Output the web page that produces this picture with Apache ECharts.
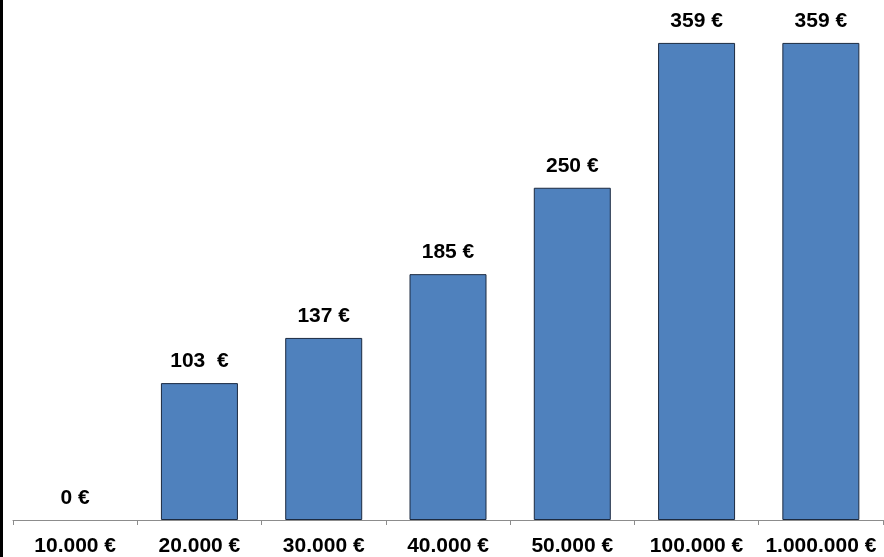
<!DOCTYPE html>
<html>
<head>
<meta charset="utf-8">
<script src="https://cdn.jsdelivr.net/npm/echarts@6/dist/echarts.min.js"></script>
<style>
html,body{margin:0;padding:0;background:#fff;}
#chart{width:884px;height:557px;}
</style>
</head>
<body>
<div id="chart"></div>
<script>
const categories = ['10.000 €', '20.000 €', '30.000 €', '40.000 €', '50.000 €', '100.000 €', '1.000.000 €'];
const values = [0, 103, 137, 185, 250, 359, 359];
const valueLabels = ['0 €', '103  €', '137 €', '185 €', '250 €', '359 €', '359 €'];

const chart = echarts.init(document.getElementById('chart'));
chart.setOption({
  animation: false,
  backgroundColor: '#ffffff',
  grid: { left: 13, right: 1, top: 15, bottom: 37 },
  xAxis: {
    type: 'category',
    data: categories,
    axisLine: { lineStyle: { color: '#8c8c8c', width: 1 } },
    axisTick: { show: true, length: 5, lineStyle: { color: '#8c8c8c' } },
    axisLabel: {
      color: '#000', fontFamily: 'Liberation Sans, Arial, sans-serif',
      fontWeight: 'bold', fontSize: 21, margin: 16, interval: 0
    }
  },
  yAxis: { type: 'value', min: 0, max: 380, show: false, splitLine: { show: false } },
  series: [{
    type: 'bar',
    data: values.map(v => v === 0 ? { value: v, itemStyle: { borderWidth: 0 } } : v),
    barWidth: 77,
    itemStyle: { color: '#4f81bd', borderColor: '#1c2a40', borderWidth: 1 },
    label: {
      show: true, position: 'top', distance: 11,
      color: '#000', fontFamily: 'Liberation Sans, Arial, sans-serif',
      fontWeight: 'bold', fontSize: 21,
      formatter: p => valueLabels[p.dataIndex]
    }
  }],
  graphic: [{
    type: 'rect', left: 0, top: 0,
    shape: { width: 3, height: 557 },
    style: { fill: '#000' }
  }]
});
</script>
</body>
</html>
